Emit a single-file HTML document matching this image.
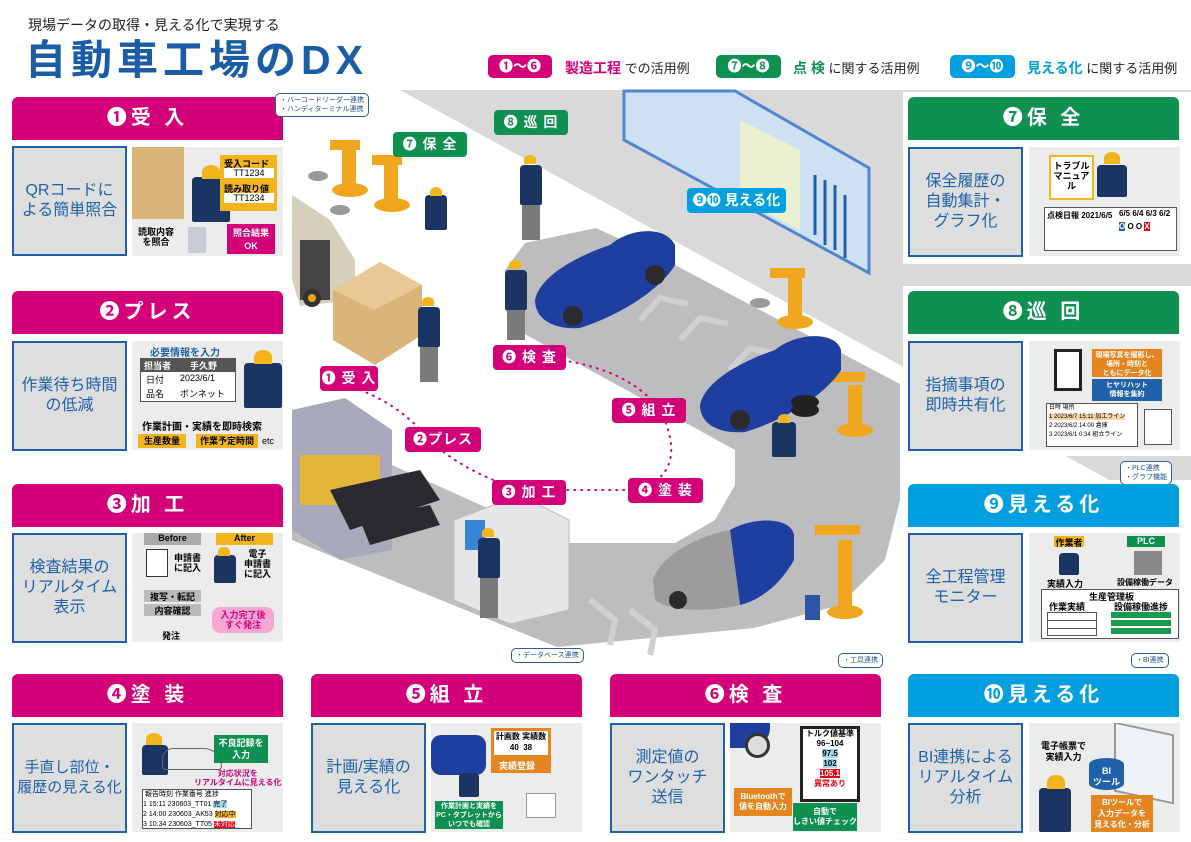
<!DOCTYPE html>
<html><head><meta charset="utf-8">
<style>
*{margin:0;padding:0;box-sizing:border-box}
body{width:1191px;height:842px;background:#fff;position:relative;overflow:hidden;font-family:"Liberation Sans","Noto Sans CJK JP",sans-serif}
.a{position:absolute}
.hd{position:absolute;height:43px;color:#fff;font-weight:bold;font-size:20px;text-align:center;line-height:43px;border-radius:6px 6px 0 0;letter-spacing:4px}
.mg{background:#d4007a}.gr{background:#0e9150}.bl{background:#00a0e0}
.lb{position:absolute;width:115px;height:110px;background:#dedede;border:2px solid #1f62ab;color:#1f62ab;font-size:16px;line-height:20px;display:flex;align-items:center;justify-content:center;text-align:center;white-space:nowrap}
.im{position:absolute;width:151px;height:109px;background:#ececec;overflow:hidden;font-size:9px;font-weight:bold}
.pill{position:absolute;height:25px;border-radius:4px;color:#fff;font-weight:bold;font-size:14px;line-height:25px;text-align:center;letter-spacing:1px;white-space:nowrap}
.bub{position:absolute;background:#fff;border:1.5px solid #2c5fa0;border-radius:5px;font-size:7px;line-height:9px;color:#1f4f8f;padding:2px 4px;white-space:nowrap}
.t{position:absolute;white-space:nowrap}
.wk{position:absolute;background:#1b3563;border-radius:4px 4px 2px 2px}
.hl{position:absolute;background:#f3b51c;border-radius:50% 50% 0 0}
</style></head><body>

<div class="a" style="left:0;top:0;width:1191px;height:842px;background:#d9d9da;clip-path:polygon(400px 90px,1191px 90px,1191px 525px)"></div>
<div class="a" style="left:0;top:0;width:1191px;height:842px;background:#bdbdbf;clip-path:polygon(525px 243px,596px 228px,675px 265px,900px 384px,900px 500px,885px 560px,840px 605px,754px 628px,557px 647px,292px 540px,292px 420px,565px 543px,675px 543px,715px 520px,735px 485px,735px 450px,521px 332px,505px 310px,505px 270px)"></div>

<svg style="position:absolute;left:0;top:0;width:1191px;height:842px" width="1191" height="842" viewBox="0 0 1191 842">
<g fill="none" stroke="#d0d0d2" stroke-width="6">
<path d="M640,320 l20,-22 l28,6"/><path d="M680,340 l20,-22 l28,6"/><path d="M730,370 l20,-22 l28,6"/>
<path d="M590,600 l25,20 l-5,25"/><path d="M630,610 l25,20 l-5,25"/>
</g>
<polygon points="624,91 735,91 869,168 869,273 624,140" fill="#cfe0f3" stroke="#4f86cf" stroke-width="3"/>
<polygon points="740,120 800,150 800,230 740,200" fill="#e9f1d0"/>
<g stroke="#1f62ab" stroke-width="3"><line x1="815" y1="175" x2="815" y2="235"/><line x1="825" y1="180" x2="825" y2="245"/><line x1="835" y1="185" x2="835" y2="250"/><line x1="845" y1="195" x2="845" y2="258"/></g>
<polygon points="292,410 345,398 392,430 392,550 340,560 292,530" fill="#a8aabb"/>
<rect x="300" y="455" width="80" height="50" fill="#e4b63a"/>
<polygon points="330,490 420,470 440,500 350,530" fill="#2a2a2e"/>
<polygon points="360,520 430,505 440,525 370,545" fill="#2a2a2e"/>
<polygon points="454,520 520,495 569,520 569,610 510,624 454,600" fill="#e6e6e8" stroke="#bbb"/>
<rect x="465" y="520" width="20" height="30" fill="#3a84d6"/>
<polygon points="292,195 330,220 355,260 355,300 300,306 292,280" fill="#d5cfbb"/>
<rect x="300" y="240" width="30" height="60" fill="#444"/>
<circle cx="312" cy="298" r="9" fill="#333"/><circle cx="312" cy="298" r="4" fill="#f0a020"/>
<polygon points="333,290 380,262 422,285 422,335 375,365 333,340" fill="#d9b57a"/>
<polygon points="333,290 380,262 422,285 375,310" fill="#e8c995"/>
<g fill="#f1a71d">
<ellipse cx="350" cy="190" rx="18" ry="7"/><rect x="342" y="150" width="14" height="40"/><rect x="330" y="140" width="30" height="10"/>
<ellipse cx="392" cy="205" rx="18" ry="7"/><rect x="384" y="165" width="14" height="40"/><rect x="372" y="155" width="30" height="10"/>
<ellipse cx="795" cy="322" rx="18" ry="7"/><rect x="788" y="275" width="14" height="47"/><rect x="770" y="268" width="35" height="10"/>
<ellipse cx="855" cy="430" rx="18" ry="7"/><rect x="848" y="385" width="14" height="45"/><rect x="830" y="372" width="35" height="10"/>
<ellipse cx="845" cy="612" rx="18" ry="7"/><rect x="838" y="540" width="14" height="72"/><rect x="815" y="525" width="45" height="10"/>
</g>
<g fill="#9a9a9c"><ellipse cx="318" cy="176" rx="10" ry="5"/><ellipse cx="340" cy="210" rx="10" ry="5"/><ellipse cx="760" cy="303" rx="10" ry="5"/></g>
<g fill="#1f3fa0">
<path d="M535,300 C540,275 580,255 610,245 C630,228 665,225 675,245 L675,265 C660,290 620,315 580,328 C555,330 535,320 535,300Z"/>
<path d="M700,405 C705,380 745,360 775,350 C795,333 835,330 841,350 L841,370 C825,395 785,420 745,432 C720,434 700,425 700,405Z"/>
<path d="M730,530 C750,518 790,515 794,535 L794,560 C780,585 760,600 740,605 Z"/>
</g>
<path d="M653,580 C660,555 700,535 730,530 L740,605 C710,612 670,612 655,600Z" fill="#9c9c9f"/>
<g fill="#2b2b2e"><circle cx="573" cy="316" r="10"/><circle cx="655" cy="275" r="10"/><circle cx="740" cy="420" r="10"/><circle cx="678" cy="600" r="9"/></g>
<g fill="#222"><ellipse cx="805" cy="410" rx="14" ry="7"/><ellipse cx="805" cy="402" rx="14" ry="7"/></g>
<rect x="805" y="595" width="15" height="25" fill="#2c55a8"/>
<path d="M360,390 Q400,405 430,440 Q460,470 520,490 L640,490 Q690,470 660,410 Q630,370 560,360" fill="none" stroke="#d4007a" stroke-width="2" stroke-dasharray="1,6" stroke-linecap="round"/>
</svg>

<div class="wk" style="left:520px;top:165px;width:22px;height:40px"></div><div class="hl" style="left:524px;top:155px;width:12px;height:9px"></div>
<div class="a" style="left:522px;top:205px;width:18px;height:35px;background:#7a7a7a"></div>
<div class="wk" style="left:425px;top:195px;width:22px;height:35px"></div><div class="hl" style="left:430px;top:187px;width:12px;height:9px"></div>
<div class="wk" style="left:505px;top:270px;width:22px;height:40px"></div><div class="hl" style="left:509px;top:260px;width:12px;height:9px"></div>
<div class="a" style="left:507px;top:310px;width:18px;height:30px;background:#7a7a7a"></div>
<div class="wk" style="left:418px;top:307px;width:22px;height:40px"></div><div class="hl" style="left:422px;top:297px;width:12px;height:9px"></div>
<div class="a" style="left:420px;top:347px;width:18px;height:35px;background:#7a7a7a"></div>
<div class="wk" style="left:772px;top:422px;width:24px;height:35px"></div><div class="hl" style="left:778px;top:414px;width:12px;height:9px"></div>
<div class="wk" style="left:478px;top:538px;width:22px;height:40px"></div><div class="hl" style="left:482px;top:528px;width:12px;height:9px"></div>
<div class="a" style="left:480px;top:578px;width:18px;height:40px;background:#7a7a7a"></div>

<div class="pill mg" style="left:320px;top:366px;width:58px">❶ 受 入</div>
<div class="pill mg" style="left:405px;top:427px;width:76px">❷プレス</div>
<div class="pill mg" style="left:492px;top:480px;width:74px">❸ 加 工</div>
<div class="pill mg" style="left:628px;top:478px;width:75px">❹ 塗 装</div>
<div class="pill mg" style="left:612px;top:398px;width:74px">❺ 組 立</div>
<div class="pill mg" style="left:493px;top:345px;width:73px">❻ 検 査</div>
<div class="pill gr" style="left:393px;top:132px;width:74px">❼ 保 全</div>
<div class="pill gr" style="left:494px;top:110px;width:74px">❽ 巡 回</div>
<div class="pill bl" style="left:687px;top:188px;width:99px;letter-spacing:0">❾❿ 見える化</div>

<div class="t" style="left:28px;top:15px;font-size:14px;color:#222">現場データの取得・見える化で実現する</div>
<div class="t" style="left:25px;top:36px;font-size:41px;font-weight:bold;color:#1a5da6;letter-spacing:5px;line-height:48px">自動車工場のDX</div>
<div class="pill mg" style="left:488px;top:55px;width:64px;height:23px;line-height:23px;letter-spacing:0;border-radius:5px">❶～❻</div>
<div class="t" style="left:565px;top:58px;font-size:14px;font-weight:bold;color:#d4007a">製造工程<span style="color:#222;font-weight:normal;font-size:13px"> での活用例</span></div>
<div class="pill gr" style="left:716px;top:55px;width:65px;height:23px;line-height:23px;letter-spacing:0;border-radius:5px">❼～❽</div>
<div class="t" style="left:793px;top:58px;font-size:14px;font-weight:bold;color:#0e9150">点 検<span style="color:#222;font-weight:normal;font-size:13px"> に関する活用例</span></div>
<div class="pill bl" style="left:950px;top:55px;width:65px;height:23px;line-height:23px;letter-spacing:0;border-radius:5px">❾～❿</div>
<div class="t" style="left:1027px;top:58px;font-size:14px;font-weight:bold;color:#00a0e0">見える化<span style="color:#222;font-weight:normal;font-size:13px"> に関する活用例</span></div>

<div class="a" style="left:903px;top:92px;width:288px;height:172px;background:#fff"></div>
<div class="a" style="left:903px;top:286px;width:288px;height:170px;background:#fff"></div>
<div class="a" style="left:903px;top:480px;width:288px;height:170px;background:#fff"></div>

<div class="hd mg" style="left:12px;top:97px;width:271px">❶受 入</div>
<div class="lb" style="left:12px;top:146px">QRコードに<br>よる簡単照合</div>
<div class="im" style="left:132px;top:147px">
 <div class="a" style="left:0;top:0;width:52px;height:72px;background:#d9b57a"></div>
 <div class="wk" style="left:60px;top:30px;width:38px;height:45px"></div><div class="hl" style="left:70px;top:18px;width:18px;height:14px"></div>
 <div class="a" style="left:88px;top:8px;width:57px;height:56px;background:#f3b51c"></div>
 <div class="t" style="left:92px;top:10px">受入コード</div><div class="t" style="left:92px;top:21px;width:50px;background:#fff;text-align:center;font-weight:normal">TT1234</div>
 <div class="t" style="left:92px;top:35px">読み取り値</div><div class="t" style="left:92px;top:46px;width:50px;background:#fff;text-align:center;font-weight:normal">TT1234</div>
 <div class="t" style="left:6px;top:80px;line-height:10px;text-align:center">読取内容<br>を照合</div>
 <div class="a" style="left:56px;top:80px;width:18px;height:26px;background:#c8ccd4"></div>
 <div class="a" style="left:95px;top:77px;width:48px;height:30px;background:#d4007a;color:#fff;text-align:center;line-height:13px;padding-top:3px">照合結果<br>OK</div>
</div>
<div class="bub" style="left:275px;top:93px">・バーコードリーダー連携<br>・ハンディターミナル連携</div>

<div class="hd mg" style="left:12px;top:291px;width:271px">❷プレス</div>
<div class="lb" style="left:12px;top:341px">作業待ち時間<br>の低減</div>
<div class="im" style="left:132px;top:341px">
 <div class="t" style="left:18px;top:3px;color:#1f62ab;font-size:10px">必要情報を入力</div>
 <div class="a" style="left:8px;top:17px;width:96px;height:44px;border:1px solid #555;background:#fff"></div>
 <div class="a" style="left:8px;top:17px;width:96px;height:14px;background:#555"></div>
 <div class="t" style="left:12px;top:18px;color:#fff">担当者</div><div class="t" style="left:58px;top:18px;color:#fff">手久野</div>
 <div class="t" style="left:14px;top:32px;font-weight:normal">日付</div><div class="t" style="left:48px;top:32px;font-weight:normal">2023/6/1</div>
 <div class="t" style="left:14px;top:46px;font-weight:normal">品名</div><div class="t" style="left:48px;top:46px;font-weight:normal">ボンネット</div>
 <div class="wk" style="left:112px;top:22px;width:38px;height:45px"></div><div class="hl" style="left:122px;top:9px;width:18px;height:14px"></div>
 <div class="t" style="left:10px;top:77px;font-size:10px">作業計画・実績を即時検索</div>
 <div class="a" style="left:6px;top:93px;width:48px;height:14px;background:#f3b51c;text-align:center">生産数量</div>
 <div class="a" style="left:64px;top:93px;width:62px;height:14px;background:#f3b51c;text-align:center">作業予定時間</div>
 <div class="t" style="left:130px;top:95px;font-weight:normal">etc</div>
</div>

<div class="hd mg" style="left:12px;top:484px;width:271px">❸加 工</div>
<div class="lb" style="left:12px;top:533px">検査結果の<br>リアルタイム<br>表示</div>
<div class="im" style="left:132px;top:533px">
 <div class="a" style="left:12px;top:0;width:57px;height:12px;background:#aaa;text-align:center">Before</div>
 <div class="a" style="left:84px;top:0;width:57px;height:12px;background:#f3b51c;text-align:center">After</div>
 <div class="a" style="left:14px;top:16px;width:22px;height:28px;background:#fff;border:1px solid #333"></div>
 <div class="t" style="left:42px;top:20px;line-height:10px">申請書<br>に記入</div>
 <div class="wk" style="left:82px;top:22px;width:22px;height:28px"></div><div class="hl" style="left:86px;top:14px;width:12px;height:9px"></div>
 <div class="t" style="left:112px;top:16px;line-height:10px;text-align:center">電子<br>申請書<br>に記入</div>
 <div class="a" style="left:12px;top:57px;width:57px;height:12px;background:#bbb;text-align:center">複写・転記</div>
 <div class="a" style="left:12px;top:71px;width:57px;height:12px;background:#bbb;text-align:center">内容確認</div>
 <div class="t" style="left:30px;top:96px">発注</div>
 <div class="a" style="left:80px;top:74px;width:62px;height:26px;background:#f7a7d3;color:#d4007a;text-align:center;line-height:10px;padding-top:3px;border-radius:8px">入力完了後<br>すぐ発注</div>
</div>

<div class="hd gr" style="left:908px;top:97px;width:271px">❼保 全</div>
<div class="lb" style="left:908px;top:147px">保全履歴の<br>自動集計・<br>グラフ化</div>
<div class="im" style="left:1029px;top:147px">
 <div class="a" style="left:20px;top:8px;width:45px;height:45px;background:#fff;border:2px solid #f3b51c;text-align:center;line-height:10px;padding-top:4px">トラブル<br>マニュアル</div>
 <div class="wk" style="left:68px;top:18px;width:30px;height:32px"></div><div class="hl" style="left:75px;top:5px;width:16px;height:12px"></div>
 <div class="a" style="left:15px;top:60px;width:133px;height:44px;background:#fff;border:1px solid #555"></div>
 <div class="t" style="left:18px;top:63px;font-size:8px">点検日報 2021/6/5</div>
 <div class="a" style="left:90px;top:60px;width:57px;height:26px;font-size:8px;line-height:13px">6/5 6/4 6/3 6/2<br><span style="background:#1f62ab;color:#fff">O</span> O O <span style="background:#e60012;color:#fff">X</span></div>
</div>
<div class="hd gr" style="left:908px;top:291px;width:271px">❽巡 回</div>
<div class="lb" style="left:908px;top:341px">指摘事項の<br>即時共有化</div>
<div class="im" style="left:1029px;top:341px">
 <div class="a" style="left:25px;top:8px;width:28px;height:42px;background:#fff;border:3px solid #222"></div>
 <div class="a" style="left:63px;top:8px;width:70px;height:28px;background:#e4851f;color:#fff;text-align:center;font-size:7px;line-height:9px;padding-top:2px">現場写真を撮影し、<br>場所・時刻と<br>ともにデータ化</div>
 <div class="a" style="left:63px;top:38px;width:70px;height:22px;background:#1f62ab;color:#fff;text-align:center;font-size:7px;line-height:9px;padding-top:2px">ヒヤリハット<br>情報を集約</div>
 <div class="a" style="left:17px;top:62px;width:92px;height:44px;background:#fff;border:1px solid #555;font-size:6px;font-weight:normal;line-height:9px;padding-left:2px;white-space:nowrap;overflow:hidden">日時 場所<br><span style="background:#f9d3a8">1 2023/6/7 15:11 加工ライン</span><br>2 2023/6/2 14:00 倉庫<br>3 2023/6/1 0:34 組立ライン</div>
 <div class="a" style="left:115px;top:68px;width:28px;height:36px;background:#fff;border:1px solid #555"></div>
</div>
<div class="bub" style="left:1120px;top:461px">・PLC連携<br>・グラフ機能</div>
<div class="hd bl" style="left:908px;top:484px;width:271px">❾見える化</div>
<div class="lb" style="left:908px;top:533px">全工程管理<br>モニター</div>
<div class="im" style="left:1029px;top:533px">
 <div class="a" style="left:25px;top:3px;width:30px;height:11px;background:#f3b51c;text-align:center">作業者</div>
 <div class="a" style="left:98px;top:3px;width:38px;height:11px;background:#0e9150;color:#fff;text-align:center">PLC</div>
 <div class="wk" style="left:30px;top:20px;width:20px;height:22px"></div>
 <div class="a" style="left:105px;top:18px;width:28px;height:24px;background:#888"></div>
 <div class="t" style="left:18px;top:44px">実績入力</div><div class="t" style="left:88px;top:44px;font-size:8px">設備稼働データ</div>
 <div class="a" style="left:12px;top:56px;width:138px;height:50px;background:#fff;border:1px solid #555"></div>
 <div class="t" style="left:60px;top:57px">生産管理板</div>
 <div class="t" style="left:20px;top:67px">作業実績</div><div class="t" style="left:85px;top:67px">設備稼働進捗</div>
 <div class="a" style="left:18px;top:79px;width:50px;height:24px;border:1px solid #555;background:repeating-linear-gradient(#fff 0 7px,#555 7px 8px)"></div>
 <div class="a" style="left:82px;top:79px;width:60px;height:24px;background:repeating-linear-gradient(#1a9a50 0 6px,#fff 6px 8px)"></div>
</div>

<div class="hd mg" style="left:12px;top:674px;width:271px">❹塗 装</div>
<div class="lb" style="left:12px;top:723px;font-size:15px">手直し部位・<br>履歴の見える化</div>
<div class="im" style="left:132px;top:723px">
 <div class="wk" style="left:10px;top:22px;width:26px;height:30px"></div><div class="hl" style="left:14px;top:10px;width:16px;height:12px"></div>
 <div class="a" style="left:30px;top:25px;width:60px;height:22px;border:1px solid #666;border-radius:12px 20px 4px 4px"></div>
 <div class="a" style="left:82px;top:12px;width:54px;height:28px;background:#0e9150;color:#fff;text-align:center;font-size:9px;line-height:12px;padding-top:2px">不良記録を<br>入力</div>
 <div class="t" style="left:62px;top:46px;color:#d4007a;font-size:8px;line-height:9px;text-align:center">対応状況を<br>リアルタイムに見える化</div>
 <div class="a" style="left:10px;top:66px;width:110px;height:40px;background:#fff;border:1px solid #555;font-size:7px;font-weight:normal;line-height:10px;white-space:nowrap">&nbsp;報告時刻 作業番号 進捗<br>1 15:11 230603_TT01 <span style="background:#9fd9f2">完了</span><br>2 14:00 230603_AK53 <span style="background:#f3b51c">対応中</span><br>3 10:34 230603_TT05 <span style="background:#e60012;color:#fff">未対応</span></div>
</div>

<div class="hd mg" style="left:311px;top:674px;width:271px">❺組 立</div>
<div class="lb" style="left:311px;top:723px">計画/実績の<br>見える化</div>
<div class="im" style="left:431px;top:723px">
 <div class="a" style="left:0;top:12px;width:55px;height:40px;background:#1f3fa0;border-radius:10px"></div>
 <div class="a" style="left:60px;top:5px;width:60px;height:45px;background:#e4851f"></div>
 <div class="a" style="left:63px;top:8px;width:54px;height:24px;background:#fff;font-size:8px;text-align:center;line-height:11px">計画数 実績数<br>40&nbsp;&nbsp;38</div>
 <div class="t" style="left:68px;top:36px;color:#fff">実績登録</div>
 <div class="wk" style="left:28px;top:50px;width:20px;height:24px"></div>
 <div class="a" style="left:4px;top:78px;width:68px;height:28px;background:#0e9150;color:#fff;font-size:7px;text-align:center;line-height:9px;padding-top:1px">作業計画と実績を<br>PC・タブレットから<br>いつでも確認</div>
 <div class="a" style="left:95px;top:70px;width:30px;height:25px;background:#fff;border:1px solid #999"></div>
</div>
<div class="bub" style="left:511px;top:648px">・データベース連携</div>

<div class="hd mg" style="left:610px;top:674px;width:271px">❻検 査</div>
<div class="lb" style="left:610px;top:723px">測定値の<br>ワンタッチ<br>送信</div>
<div class="im" style="left:730px;top:723px">
 <div class="a" style="left:0;top:0;width:40px;height:25px;background:#1f3fa0;border-radius:0 0 20px 0"></div>
 <div class="a" style="left:15px;top:10px;width:25px;height:25px;background:#ddd;border:3px solid #333;border-radius:50%"></div>
 <div class="a" style="left:70px;top:3px;width:60px;height:76px;background:#fff;border:3px solid #222;text-align:center;font-size:8px;line-height:10px">トルク値基準<br>96~104<br><span style="background:#9fd9f2">97.5</span><br><span style="background:#9fd9f2">102</span><br><span style="background:#e60012;color:#fff">105.1</span><br><span style="color:#e60012">異常あり</span></div>
 <div class="a" style="left:4px;top:65px;width:58px;height:28px;background:#e4851f;color:#fff;font-size:8px;text-align:center;line-height:10px;padding-top:4px">Bluetoothで<br>値を自動入力</div>
 <div class="a" style="left:63px;top:80px;width:64px;height:28px;background:#0e9150;color:#fff;font-size:8px;text-align:center;line-height:10px;padding-top:4px">自動で<br>しきい値チェック</div>
</div>
<div class="bub" style="left:838px;top:653px">・工具連携</div>

<div class="hd bl" style="left:908px;top:674px;width:271px">❿見える化</div>
<div class="lb" style="left:908px;top:723px">BI連携による<br>リアルタイム<br>分析</div>
<div class="im" style="left:1029px;top:723px">
 <div class="t" style="left:12px;top:18px;line-height:11px;text-align:center">電子帳票で<br>実績入力</div>
 <div class="a" style="left:85px;top:5px;width:60px;height:70px;background:#eef3f8;border:2px solid #999;transform:skewY(12deg)"></div>
 <div class="a" style="left:60px;top:35px;width:35px;height:32px;background:#1f62ab;border-radius:50%/20%;color:#fff;text-align:center;line-height:11px;padding-top:8px">BI<br>ツール</div>
 <div class="wk" style="left:10px;top:65px;width:32px;height:44px"></div><div class="hl" style="left:18px;top:52px;width:18px;height:14px"></div>
 <div class="a" style="left:62px;top:72px;width:62px;height:37px;background:#e4851f;color:#fff;font-size:8px;text-align:center;line-height:11px;padding-top:2px">BIツールで<br>入力データを<br>見える化・分析</div>
</div>
<div class="bub" style="left:1131px;top:653px">・BI連携</div>

</body></html>
